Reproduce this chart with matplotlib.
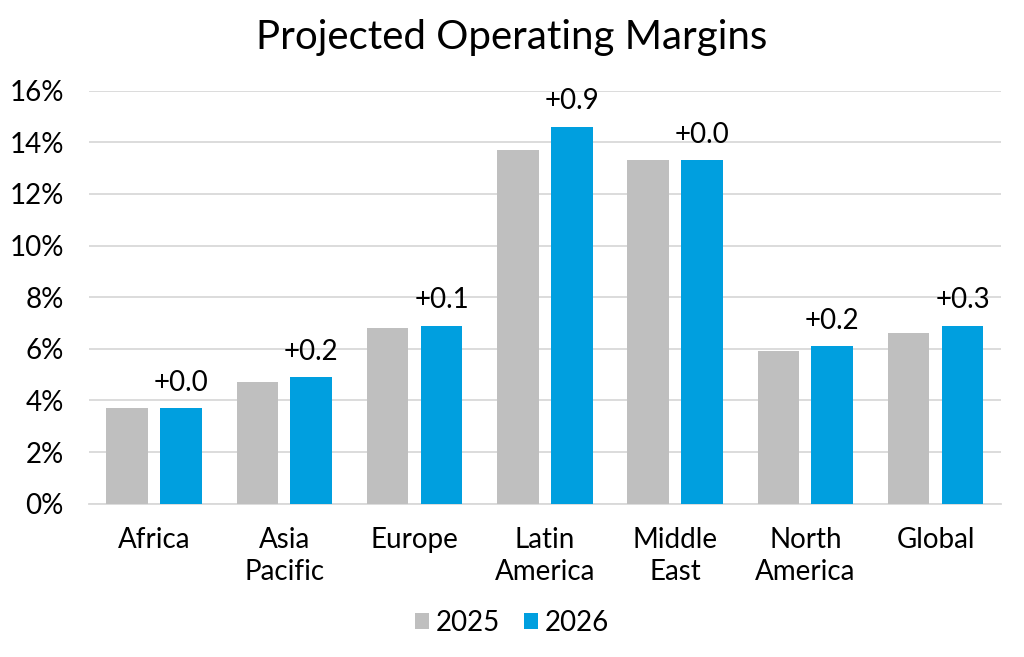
import matplotlib
matplotlib.use("Agg")
import matplotlib.pyplot as plt
import numpy as np

categories = ["Africa", "Asia\nPacific", "Europe", "Latin\nAmerica", "Middle\nEast", "North\nAmerica", "Global"]
values_2025 = [3.7, 4.7, 6.8, 13.7, 13.3, 5.9, 6.6]
values_2026 = [3.7, 4.9, 6.9, 14.6, 13.3, 6.1, 6.9]
series_names = ["2025", "2026"]
yticks = [0, 2, 4, 6, 8, 10, 12, 14, 16]

plt.rcParams['font.family'] = ['Lato', 'DejaVu Sans']

fig = plt.figure(figsize=(10.24, 6.57), dpi=100)
ax = fig.add_axes([89/1024, 1 - 503.7/657, (1000.7 - 89)/1024, (503.7 - 90.7)/657])

x = np.arange(len(categories))
w = 0.32
off = 0.207
c25 = "#BFBFBF"
c26 = "#009FDF"
ax.bar(x - off, values_2025, width=w, color=c25, label=series_names[0], zorder=3)
ax.bar(x + off, values_2026, width=w, color=c26, label=series_names[1], zorder=3)

for xi, v25, v26 in zip(x, values_2025, values_2026):
    d = v26 - v25
    ax.annotate(f"+{d:.1f}", (xi + off, v26), xytext=(0, 9), textcoords="offset points",
                ha="center", va="bottom", fontsize=20, color="black")

ax.set_xlim(-0.5, len(categories) - 0.5)
ax.set_ylim(0, 16)
ax.set_yticks(yticks)
ax.set_yticklabels([f"{t}%" for t in yticks], fontsize=20)
ax.set_xticks(x)
ax.set_xticklabels(categories, fontsize=20, linespacing=1.25)
ax.tick_params(axis="y", length=0, pad=18)
ax.tick_params(axis="x", length=0, pad=17)
ax.yaxis.grid(True, color="#D9D9D9", linewidth=1.3, zorder=0)
for s in ["top", "right", "left"]:
    ax.spines[s].set_visible(False)
ax.spines["bottom"].set_color("#D9D9D9")
ax.spines["bottom"].set_linewidth(1.3)

fig.text(0.5, 1 - 38/657, "Projected Operating Margins", ha="center", va="center", fontsize=29)

fig.legend(loc="center", bbox_to_anchor=(0.5, 1 - 623/657), ncol=2, frameon=False,
           fontsize=20, handlelength=0.5, handleheight=0.5, handletextpad=0.25, columnspacing=0.85)

fig.savefig("out.png", dpi=100)
